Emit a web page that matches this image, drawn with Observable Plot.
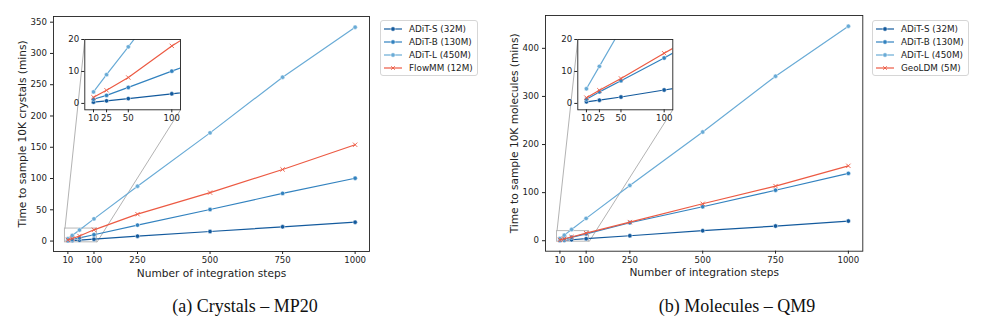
<!DOCTYPE html>
<html><head><meta charset="utf-8">
<script src="https://cdn.jsdelivr.net/npm/d3@7"></script>
<script src="https://cdn.jsdelivr.net/npm/@observablehq/plot@0.6"></script>
<style>
body{margin:0;background:#fff;}
#root{position:relative;width:990px;height:326px;overflow:hidden;font-family:"DejaVu Sans",sans-serif;background:#fff;}
.abs{position:absolute;}
.legend{position:absolute;border:1px solid #d6d6d6;border-radius:3px;background:#fff;padding:1px 4px 1px 3px;font-size:8.8px;color:#222;}
.legend .row{height:13px;display:flex;align-items:center;white-space:nowrap;}
.legend svg{margin-right:7px;flex:none;}
.caption{position:absolute;font-family:"Liberation Serif","Times New Roman",serif;font-size:18px;line-height:21px;transform:translateX(-50%);white-space:nowrap;color:#111;}
</style></head><body><div id="root"></div>
<script>
// ---------------- data ----------------
const steps = [10, 25, 50, 100, 250, 500, 750, 1000];
const xTicks = [10, 100, 250, 500, 750, 1000];
const insetXTicks = [10, 25, 50, 100];
const insetYTicks = [0, 10, 20];
const insetXLim = [0, 110];
const insetYLim = [-2, 20];

const crystalsYTicks = [0, 50, 100, 150, 200, 250, 300, 350];
const crystalsNames = ["ADiT-S (32M)", "ADiT-B (130M)", "ADiT-L (450M)", "FlowMM (12M)"];
const crystalsS = [0.4, 0.8, 1.5, 3.0, 7.8, 15.3, 22.8, 30.2];
const crystalsB = [1.3, 2.5, 5.0, 10.1, 25.5, 50.5, 76.2, 100.5];
const crystalsL = [3.6, 9.0, 17.7, 35.5, 87.6, 173, 262, 342];
const crystalsFlowMM = [1.9, 4.1, 8.1, 18.0, 43.0, 77.5, 114.5, 154];

const moleculesYTicks = [0, 100, 200, 300, 400];
const moleculesNames = ["ADiT-S (32M)", "ADiT-B (130M)", "ADiT-L (450M)", "GeoLDM (5M)"];
const moleculesS = [0.5, 1.0, 2.0, 4.2, 10.4, 20.8, 30.5, 40.9];
const moleculesB = [1.3, 3.6, 7.1, 14.2, 37.4, 70.6, 105, 140];
const moleculesL = [4.6, 11.6, 23.3, 46.5, 115, 226, 342, 446];
const moleculesGeoLDM = [1.8, 4.1, 7.8, 15.7, 38.8, 76.8, 113.6, 155.7];

const xLabel = "Number of integration steps";
const crystalsYLabel = "Time to sample 10K crystals (mins)";
const moleculesYLabel = "Time to sample 10K molecules (mins)";
const captions = ["(a) Crystals \u2013 MP20", "(b) Molecules \u2013 QM9"];

// ---------------- style / layout ----------------
const colors = ["#135a9d", "#3282bf", "#69abd6", "#ec5a43"];
const symbols = ["circle", "circle", "circle", "times"];
const FONT = "DejaVu Sans";
const TICK_FS = 8.6, LABEL_FS = 10.6;

const panels = [
  {
    names: crystalsNames, series: [crystalsS, crystalsB, crystalsL, crystalsFlowMM],
    yTicks: crystalsYTicks, yLabel: crystalsYLabel, caption: captions[0], captionX: 245,
    main: {left: 0, top: 0, width: 375, height: 290, mt: 16, mr: 6, mb: 39, ml: 53},
    inset: {left: 58, top: 30, width: 127, height: 100, mt: 9, mr: 5, mb: 20.7, ml: 26.3},
    legend: {left: 380, top: 20}
  },
  {
    names: moleculesNames, series: [moleculesS, moleculesB, moleculesL, moleculesGeoLDM],
    yTicks: moleculesYTicks, yLabel: moleculesYLabel, caption: captions[1], captionX: 737,
    main: {left: 490, top: 0, width: 380, height: 290, mt: 15, mr: 7.7, mb: 39.3, ml: 55},
    inset: {left: 550, top: 30, width: 127, height: 100, mt: 9, mr: 4.7, mb: 20.7, ml: 27.3},
    legend: {left: 872, top: 20}
  }
];

function padded(vals) {
  const [a, b] = d3.extent(vals);
  const p = (b - a) * 0.05;
  return [a - p, b + p];
}

function rowsOf(panel) {
  const rows = [];
  panel.series.forEach((vals, i) => vals.forEach((v, j) => rows.push({step: steps[j], value: v, k: i, name: panel.names[i]})));
  return rows;
}

function seriesMarks(rows, opts = {}) {
  const marks = [];
  for (let k = 0; k < 4; k++) {
    const d = rows.filter(r => r.k === k);
    marks.push(Plot.line(d, {x: "step", y: "value", stroke: colors[k], strokeWidth: 1.2, ...opts}));
    if (symbols[k] === "times") {
      marks.push(Plot.dot(d, {x: "step", y: "value", symbol: "times", r: 2.1, stroke: colors[k], strokeWidth: 0.9, ...opts}));
    } else {
      marks.push(Plot.dot(d, {x: "step", y: "value", r: 2.2, fill: colors[k], stroke: "white", strokeWidth: 0.5, ...opts}));
    }
  }
  return marks;
}

const fmt = d => String(d);

function mainPlot(panel, links) {
  const rows = rowsOf(panel);
  const m = panel.main;
  const allVals = panel.series.flat();
  return Plot.plot({
    width: m.width, height: m.height,
    marginTop: m.mt, marginRight: m.mr, marginBottom: m.mb, marginLeft: m.ml,
    x: {domain: padded(steps)},
    y: {domain: padded(allVals)},
    style: {fontFamily: FONT, background: "transparent", color: "#222", overflow: "visible"},
    marks: [
      Plot.rect([{x1: insetXLim[0], x2: insetXLim[1], y1: insetYLim[0], y2: insetYLim[1]}],
        {x1: "x1", x2: "x2", y1: "y1", y2: "y2", fill: "none", stroke: "#b8b8b8", strokeWidth: 1}),
      Plot.link(links, {x1: "x1", y1: "y1", x2: "x2", y2: "y2", stroke: "#b3b3b3", strokeWidth: 1}),
      ...seriesMarks(rows),
      Plot.frame({stroke: "#222", strokeWidth: 0.9}),
      Plot.axisX(xTicks, {tickSize: 3, tickPadding: 2.5, fontSize: TICK_FS, label: null, tickFormat: fmt}),
      Plot.axisY(panel.yTicks, {tickSize: 3, tickPadding: 3.5, fontSize: TICK_FS, label: null, tickFormat: fmt}),
      Plot.text([xLabel], {frameAnchor: "bottom", dy: 25, text: d => d, fontSize: LABEL_FS, fill: "#222", textAnchor: "middle"}),
      Plot.text([panel.yLabel], {frameAnchor: "left", dx: -31.3, rotate: -90, text: d => d, fontSize: LABEL_FS, fill: "#222", textAnchor: "middle"})
    ]
  });
}

function insetPlot(panel) {
  const rows = rowsOf(panel);
  const m = panel.inset;
  return Plot.plot({
    width: m.width, height: m.height,
    marginTop: m.mt, marginRight: m.mr, marginBottom: m.mb, marginLeft: m.ml,
    x: {domain: insetXLim},
    y: {domain: insetYLim},
    style: {fontFamily: FONT, background: "transparent", color: "#222", overflow: "visible"},
    marks: [
      Plot.frame({fill: "white"}),
      ...seriesMarks(rows, {clip: true}),
      Plot.frame({stroke: "#222", strokeWidth: 0.9}),
      Plot.axisX(insetXTicks, {tickSize: 3, tickPadding: 2, fontSize: TICK_FS, label: null, tickFormat: fmt}),
      Plot.axisY(insetYTicks, {tickSize: 3, tickPadding: 2.5, fontSize: TICK_FS, label: null, tickFormat: fmt})
    ]
  });
}

function legendEl(panel) {
  const div = document.createElement("div");
  div.className = "legend";
  div.style.left = panel.legend.left + "px";
  div.style.top = panel.legend.top + "px";
  panel.names.forEach((n, k) => {
    const row = document.createElement("div");
    row.className = "row";
    const sym = symbols[k] === "times"
      ? `<path d="M8.2,3.2L11.8,6.8M8.2,6.8L11.8,3.2" stroke="${colors[k]}" stroke-width="0.9"/>`
      : `<circle cx="10" cy="5" r="2.2" fill="${colors[k]}" stroke="white" stroke-width="0.5"/>`;
    row.innerHTML = `<svg width="18" height="10" viewBox="1 0 18 10"><line x1="1" x2="19" y1="5" y2="5" stroke="${colors[k]}" stroke-width="1.2"/>${sym}</svg><span>${n}</span>`;
    div.appendChild(row);
  });
  return div;
}

const root = document.getElementById("root");
for (const panel of panels) {
  const m = panel.main, ins = panel.inset;
  const probe = mainPlot(panel, []);
  const sx = probe.scale("x"), sy = probe.scale("y");
  const fx = d3.scaleLinear(sx.domain, sx.range), fy = d3.scaleLinear(sy.domain, sy.range);
  const iL = ins.left + ins.ml - m.left, iR = ins.left + ins.width - ins.mr - m.left;
  const iT = ins.top + ins.mt - m.top, iB = ins.top + ins.height - ins.mb - m.top;
  const links = [
    {x1: insetXLim[0], y1: insetYLim[1], x2: fx.invert(iL), y2: fy.invert(iT)},
    {x1: insetXLim[1], y1: insetYLim[0], x2: fx.invert(iR), y2: fy.invert(iB)}
  ];
  const main = mainPlot(panel, links);
  main.classList.add("abs");
  main.style.left = m.left + "px"; main.style.top = m.top + "px";
  root.appendChild(main);

  const inset = insetPlot(panel);
  inset.classList.add("abs");
  inset.style.left = ins.left + "px"; inset.style.top = ins.top + "px";
  root.appendChild(inset);

  root.appendChild(legendEl(panel));

  const cap = document.createElement("div");
  cap.className = "caption";
  cap.textContent = panel.caption;
  cap.style.left = panel.captionX + "px";
  cap.style.top = "296px";
  root.appendChild(cap);
}
</script></body></html>
